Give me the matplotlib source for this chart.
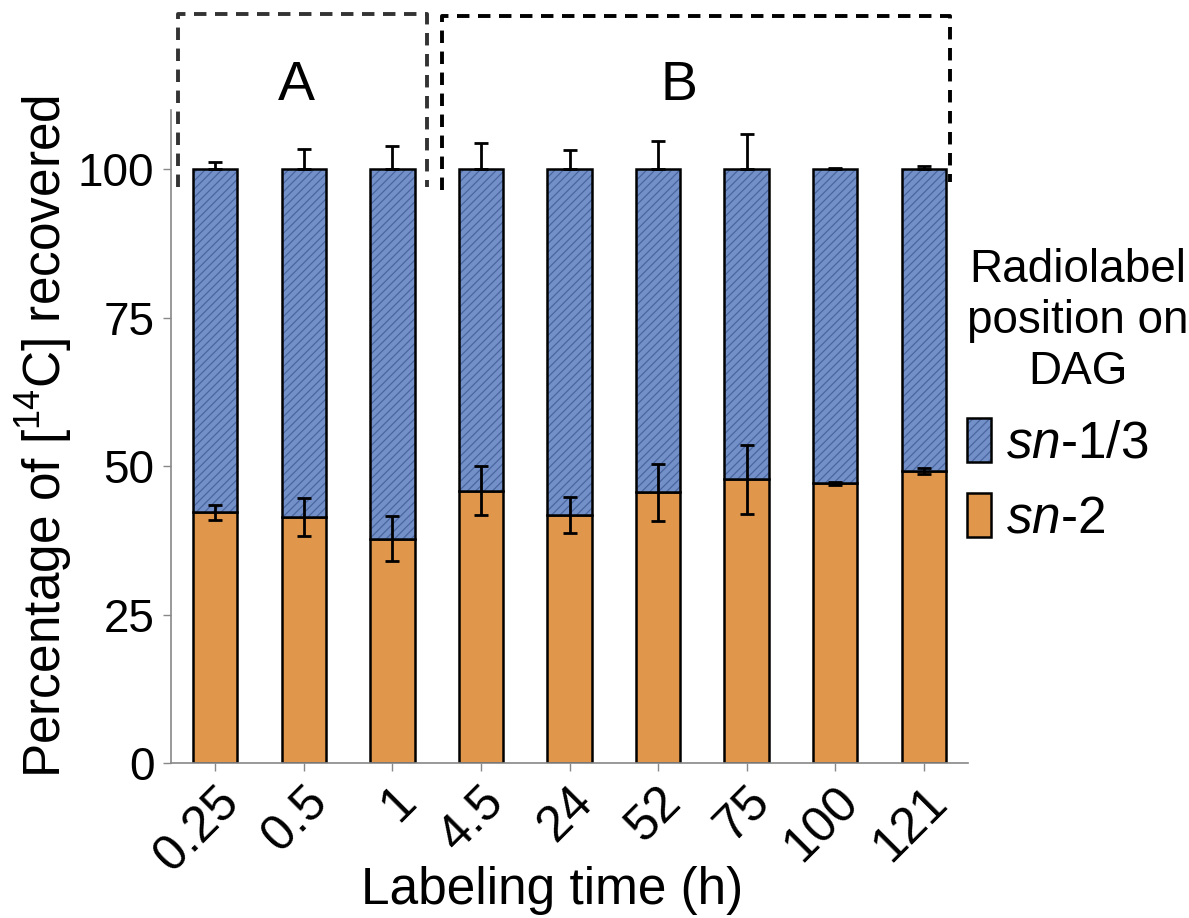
import matplotlib
matplotlib.use('Agg')
import matplotlib.pyplot as plt
from matplotlib.patches import Patch
from matplotlib.lines import Line2D

times = ['0.25', '0.5', '1', '4.5', '24', '52', '75', '100', '121']
sn2 = [42.2, 41.5, 37.8, 45.9, 41.8, 45.6, 47.8, 47.1, 49.2]
sn2_err = [1.3, 3.2, 3.8, 4.2, 3.0, 4.8, 5.8, 0.3, 0.5]
sn13 = [57.8, 58.5, 62.2, 54.1, 58.2, 54.4, 52.2, 52.9, 50.8]
sn13_err = [1.2, 3.4, 4.0, 4.4, 3.2, 4.7, 6.0, 0.2, 0.5]

orange = '#e0974b'
blue = '#7490c8'
hatch_col = '#4a66a0'

plt.rcParams['font.family'] = ['Liberation Sans', 'DejaVu Sans']
plt.rcParams['mathtext.fontset'] = 'custom'
plt.rcParams['mathtext.rm'] = 'Liberation Sans'
plt.rcParams['mathtext.it'] = 'Liberation Sans:italic'
plt.rcParams['hatch.linewidth'] = 0.9

fig = plt.figure(figsize=(11.89, 9.18), dpi=100)
ax = fig.add_axes([171 / 1189, 1 - 763 / 918, (968 - 171) / 1189, (763 - 110) / 918])

x = list(range(len(times)))
w = 0.5
ax.bar(x, sn2, w, color=orange, edgecolor='black', linewidth=1.8, zorder=2)
ax.bar(x, sn13, w, bottom=sn2, color=blue, edgecolor=hatch_col, hatch='////',
       linewidth=0, zorder=2)
ax.bar(x, sn13, w, bottom=sn2, fill=False, edgecolor='black', linewidth=1.8, zorder=3)

ax.errorbar(x, sn2, yerr=sn2_err, fmt='none', ecolor='black', elinewidth=2,
            capsize=5, capthick=2, zorder=4)
tops = [a + b for a, b in zip(sn2, sn13)]
ax.errorbar(x, tops, yerr=[[0] * len(x), sn13_err], fmt='none', ecolor='black',
            elinewidth=2, capsize=5, capthick=2, zorder=4)

ax.set_xlim(-0.5, len(times) - 0.5)
ax.set_ylim(0, 110)
ax.set_yticks([0, 25, 50, 75, 100])
ax.set_xticks(x)
ax.set_xticklabels(times, rotation=45, ha='right', rotation_mode='anchor')
ax.tick_params(axis='x', labelsize=36, color='#888888', length=6, width=1, pad=5)
ax.tick_params(axis='y', labelsize=33, color='#888888', length=6, width=1, pad=6)
for s in ['top', 'right']:
    ax.spines[s].set_visible(False)
for s in ['left', 'bottom']:
    ax.spines[s].set_color('#888888')
    ax.spines[s].set_linewidth(1.2)

ax.set_ylabel('Percentage of [$^{14}$C] recovered', fontsize=37)
ax.yaxis.set_label_coords(-0.12, 0.5)
ax.set_xlabel('Labeling time (h)', fontsize=37)
ax.xaxis.set_label_coords(0.478, -0.158)

# dashed group boxes
ax.add_line(Line2D([-0.42, -0.42, 2.39, 2.39], [97.0, 126.2, 126.2, 97.0],
                   color='#333333', lw=2.8, ls=(0, (3.2, 2.2)), clip_on=False))
ax.add_line(Line2D([2.56, 2.56, 8.30, 8.30], [96.5, 125.8, 125.8, 97.8],
                   color='black', lw=2.8, ls=(0, (3.2, 2.2)), clip_on=False))
ax.text(0.92, 114, 'A', fontsize=40, ha='center', va='center', clip_on=False)
ax.text(5.24, 114, 'B', fontsize=40, ha='center', va='center', clip_on=False)

h13 = (Patch(facecolor=blue, edgecolor=hatch_col, hatch='////', linewidth=0),
       Patch(fill=False, edgecolor='black', linewidth=1.8))
h2 = Patch(facecolor=orange, edgecolor='black', linewidth=1.8)
leg = fig.legend([h13, h2], ['$\\mathit{sn}$-1/3', '$\\mathit{sn}$-2'],
                 title='Radiolabel\nposition on\nDAG', loc='center left',
                 bbox_to_anchor=(967 / 1189, 1 - 396 / 918), frameon=False,
                 fontsize=37, title_fontsize=33, handlelength=0.47,
                 handleheight=0.95, handletextpad=0.29, labelspacing=0.47,
                 borderaxespad=0, borderpad=0, alignment='left')
leg.get_title().set_multialignment('center')

plt.savefig('out.png', dpi=100)
